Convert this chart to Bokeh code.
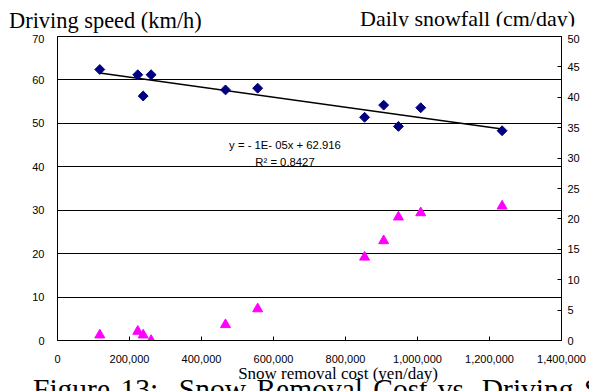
import numpy as np
from bokeh.plotting import figure
from bokeh.layouts import column
from bokeh.models import Range1d, LinearAxis, FixedTicker, NumeralTickFormatter, Label, Div
from bokeh.embed import file_html
from bokeh.resources import INLINE

# ---- data ----
cost = [117500, 223000, 238000, 260000, 466700, 556000, 853000, 906000, 947000, 1009000, 1235000]
speed = [62.4, 61.2, 56.3, 61.2, 57.7, 58.1, 51.4, 54.2, 49.3, 53.6, 48.3]
snowfall = [0.9, 1.5, 0.9, 0.0, 2.6, 5.2, 13.7, 16.4, 20.3, 21.0, 22.1]

x_ticks = [0, 200000, 400000, 600000, 800000, 1000000, 1200000, 1400000]
speed_ticks = [0, 10, 20, 30, 40, 50, 60, 70]
snow_ticks = [0, 5, 10, 15, 20, 25, 30, 35, 40, 45, 50]

left_title = "Driving speed (km/h)"
right_title = "Daily snowfall (cm/day)"
x_title = "Snow removal cost (yen/day)"
eq_text = "y = - 1E- 05x + 62.916"
r2_text = "R\u00b2 = 0.8427"
caption = "Figure 13:  Snow Removal Cost vs. Driving Speed"

SERIF = "Liberation Serif"
SANS = "Liberation Sans"
W = 589
TOP_H, MAIN_H = 34, 334
BOT_H = 391 - TOP_H - MAIN_H
OV = 8  # the bottom strip reaches up over the empty band under the tick labels


def svg_text(text, x, y, size, anchor="start", extra=""):
    style = (f"font-family:'{SERIF}',serif;font-size:{size}px;fill:#000;"
             f"text-anchor:{anchor};white-space:pre;font-weight:normal;font-style:normal;{extra}")
    return f'<text x="{x}" y="{y}" style="{style}">{text}</text>'


# ---- top strip: the two axis titles (right one is cut at its baseline, as in the reference) ----
top_html = (
    f'<svg xmlns="http://www.w3.org/2000/svg" width="{W}" height="{TOP_H}" style="display:block">'
    + svg_text(left_title, 9, 28.3, 22.4)
    + f'<svg x="0" y="0" width="{W}" height="26.4">' + svg_text(right_title, 360, 25.6, 22) + '</svg>'
    + '</svg>'
)
top = Div(text=top_html, width=W, height=TOP_H, margin=0)

# ---- main chart ----
p = figure(width=W, height=MAIN_H, output_backend="svg", toolbar_location=None,
           x_range=Range1d(0, 1400000), y_range=Range1d(0, 70),
           min_border_left=57, min_border_right=28, min_border_top=2, min_border_bottom=28)
p.extra_y_ranges = {"snow": Range1d(0, 50)}
p.background_fill_color = "white"
p.border_fill_color = "white"
p.outline_line_color = "black"
p.outline_line_width = 1

xa = p.xaxis[0]
xa.ticker = FixedTicker(ticks=x_ticks)
xa.formatter = NumeralTickFormatter(format="0,0")
xa.major_tick_in = 4
xa.major_tick_out = 0
xa.minor_tick_line_color = None
xa.major_label_standoff = 14
xa.axis_line_color = "black"
xa.major_label_text_font = SANS
xa.major_label_text_font_size = "11px"
xa.major_label_text_color = "black"

ya = p.yaxis[0]
ya.ticker = FixedTicker(ticks=speed_ticks)
ya.major_tick_in = 0
ya.major_tick_out = 0
ya.minor_tick_line_color = None
ya.major_label_standoff = 13
ya.axis_line_color = "black"
ya.major_label_text_font = SANS
ya.major_label_text_font_size = "11px"
ya.major_label_text_color = "black"
ya.major_label_text_baseline = "hanging"

ra = LinearAxis(y_range_name="snow", ticker=FixedTicker(ticks=snow_ticks))
ra.major_tick_in = 4
ra.major_tick_out = 0
ra.minor_tick_line_color = None
ra.major_label_standoff = 6
ra.axis_line_color = "black"
ra.major_label_text_font = SANS
ra.major_label_text_font_size = "11px"
ra.major_label_text_color = "black"
ra.major_label_text_baseline = "hanging"
p.add_layout(ra, "right")

p.xgrid.grid_line_color = None
p.ygrid.ticker = FixedTicker(ticks=speed_ticks)
p.ygrid.grid_line_color = "black"
p.ygrid.grid_line_width = 1

# trend line (least squares on the speed series)
slope, intercept = np.polyfit(cost, speed, 1)
tx = [min(cost), max(cost)]
p.line(tx, [slope * v + intercept for v in tx], line_color="black", line_width=1.5)

p.scatter(cost, speed, marker="square", angle=np.pi / 4, size=7,
          fill_color="#000080", line_color="#000080")
p.scatter(cost, snowfall, marker="triangle", size=10, y_range_name="snow",
          fill_color="#FF00FF", line_color="#FF00FF")

FL, FB = 57, 340  # frame left / bottom in page pixels


def plab(text, px, py, size):
    p.add_layout(Label(x=px - FL, y=FB - py, x_units="screen", y_units="screen",
                       text=text, text_font=SANS, text_font_size=size,
                       text_align="center", text_baseline="alphabetic", text_color="black"))


plab(eq_text, 284.5, 144, "11.3px")
plab(r2_text, 284.5, 161, "11.3px")

# ---- bottom strip: x title and the caption that the page edge cuts ----
Y0 = TOP_H + MAIN_H - OV
bot_html = (
    f'<svg xmlns="http://www.w3.org/2000/svg" width="{W}" height="{BOT_H + OV}" style="display:block">'
    + svg_text(x_title, 338, 379 - Y0, 17, anchor="middle")
    + svg_text(caption, 33, 399 - Y0, 29.5, extra="word-spacing:3px")
    + '</svg>'
)
bot = Div(text=bot_html, width=W, height=BOT_H + OV, margin=(-OV, 0, 0, 0))

layout = column(top, p, bot, spacing=0)
open("out.html", "w").write(file_html(layout, INLINE))
